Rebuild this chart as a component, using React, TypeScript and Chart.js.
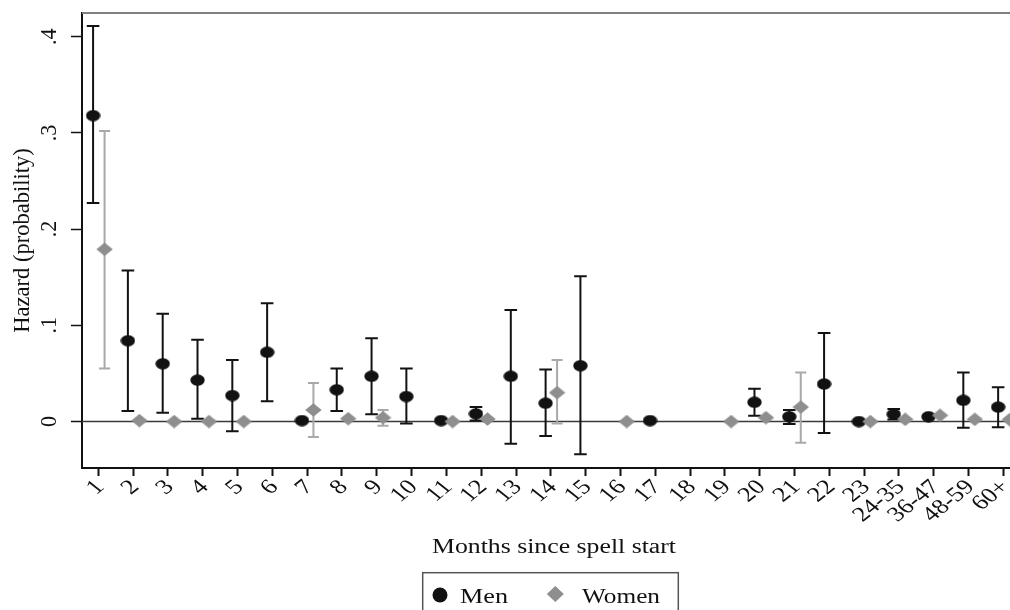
import { useEffect, useRef } from 'react';
import { Chart, registerables } from 'chart.js';

Chart.register(...registerables);

// Duration categories on the horizontal axis (months since spell start)
const tickLabels = [
  '1', '2', '3', '4', '5', '6', '7', '8', '9', '10', '11', '12', '13', '14', '15',
  '16', '17', '18', '19', '20', '21', '22', '23', '24-35', '36-47', '48-59', '60+',
];

// Estimated hazard for men, with 95% confidence bounds (null = not estimated)
const menHazard = [
  0.318, 0.084, 0.060, 0.043, 0.027, 0.072, 0.001, 0.033, 0.047, 0.026, 0.001, 0.008, 0.047, 0.019, 0.058,
  null, 0.001, null, null, 0.020, 0.005, 0.039, 0.000, 0.0075, 0.005, 0.022, 0.015,
];
const menLower = [
  0.227, 0.011, 0.009, 0.003, -0.010, 0.021, null, 0.011, 0.0075, -0.002, null, 0.001, -0.023, -0.015, -0.034,
  null, null, null, null, 0.006, -0.0026, -0.012, null, 0.002, null, -0.0064, -0.006,
];
const menUpper = [
  0.411, 0.157, 0.112, 0.085, 0.064, 0.123, null, 0.055, 0.0865, 0.055, null, 0.015, 0.116, 0.054, 0.151,
  null, null, null, null, 0.034, 0.012, 0.092, null, 0.013, null, 0.051, 0.0356,
];

// Estimated hazard for women, with 95% confidence bounds
const womenHazard = [
  0.179, 0.001, 0.000, 0.000, 0.000, null, 0.012, 0.003, 0.004, null, 0.000, 0.0026, null, 0.030, null,
  0.000, null, null, 0.000, 0.004, 0.015, null, 0.000, 0.0023, 0.0064, 0.0023, 0.002,
];
const womenLower = [
  0.055, null, null, null, null, null, -0.016, null, -0.0044, null, null, null, null, -0.002, null,
  null, null, null, null, null, -0.022, null, null, null, null, null, null,
];
const womenUpper = [
  0.302, null, null, null, null, null, 0.040, null, 0.012, null, null, null, null, 0.064, null,
  null, null, null, null, null, 0.051, null, null, null, null, null, null,
];

const yTickValues = [0, 0.1, 0.2, 0.3, 0.4];
const yTickLabels = ['0', '.1', '.2', '.3', '.4'];
const seriesNames = ['Men', 'Women'];
const xTitle = 'Months since spell start';
const yTitle = 'Hazard (probability)';

// Side-by-side placement of the two groups around each category
const MEN_SHIFT = -0.15;
const WOMEN_SHIFT = 0.18;

const SERIF = '"Liberation Serif", "Times New Roman", serif';
const INK = '#111111';
const MEN_COLOR = '#121212';
const WOMEN_COLOR = '#8e8e8e';
const WOMEN_CI_COLOR = '#a9a9a9';

function makeEllipse(w: number, h: number, color: string) {
  const c = document.createElement('canvas');
  c.width = w;
  c.height = h;
  const g = c.getContext('2d')!;
  g.fillStyle = color;
  g.beginPath();
  g.ellipse(w / 2, h / 2, w / 2 - 0.3, h / 2 - 0.3, 0, 0, Math.PI * 2);
  g.fill();
  return c;
}

function makeDiamond(w: number, h: number, color: string) {
  const c = document.createElement('canvas');
  c.width = w;
  c.height = h;
  const g = c.getContext('2d')!;
  g.fillStyle = color;
  g.beginPath();
  g.moveTo(0.3, h / 2);
  g.lineTo(w / 2, 0.3);
  g.lineTo(w - 0.3, h / 2);
  g.lineTo(w / 2, h - 0.3);
  g.closePath();
  g.fill();
  return c;
}

function drawText(
  ctx: CanvasRenderingContext2D,
  text: string,
  x: number,
  y: number,
  size: number,
  sx: number,
  angle: number,
  align: CanvasTextAlign,
  baseline: CanvasTextBaseline,
) {
  ctx.save();
  ctx.translate(x, y);
  ctx.scale(sx, 1);
  ctx.rotate(angle);
  ctx.font = `${size}px ${SERIF}`;
  ctx.textAlign = align;
  ctx.textBaseline = baseline;
  ctx.fillStyle = INK;
  ctx.fillText(text, 0, 0);
  ctx.restore();
}

function drawFitted(
  ctx: CanvasRenderingContext2D,
  text: string,
  left: number,
  baselineY: number,
  size: number,
  width: number,
) {
  ctx.save();
  ctx.font = `${size}px ${SERIF}`;
  const sx = width / ctx.measureText(text).width;
  ctx.translate(left, baselineY);
  ctx.scale(sx, 1);
  ctx.textAlign = 'left';
  ctx.textBaseline = 'alphabetic';
  ctx.fillStyle = INK;
  ctx.fillText(text, 0, 0);
  ctx.restore();
}

const decorPlugin = {
  id: 'hazardDecor',
  beforeDatasetsDraw(chart: any) {
    const { ctx, chartArea: a } = chart;
    const x = chart.scales.x;
    const y = chart.scales.y;
    ctx.save();

    // upper and right edges of the plot region
    ctx.strokeStyle = '#808080';
    ctx.lineWidth = 2;
    ctx.beginPath();
    ctx.moveTo(a.left, a.top);
    ctx.lineTo(a.right, a.top);
    ctx.lineTo(a.right, a.bottom);
    ctx.stroke();

    // reference line at zero
    const y0 = y.getPixelForValue(0);
    ctx.strokeStyle = '#3a3a3a';
    ctx.lineWidth = 1.5;
    ctx.beginPath();
    ctx.moveTo(a.left, y0);
    ctx.lineTo(a.right, y0);
    ctx.stroke();

    // confidence intervals
    const groups = [
      { lo: womenLower, hi: womenUpper, shift: WOMEN_SHIFT, color: WOMEN_CI_COLOR, cap: 5.5 },
      { lo: menLower, hi: menUpper, shift: MEN_SHIFT, color: MEN_COLOR, cap: 6.3 },
    ];
    for (const g of groups) {
      ctx.strokeStyle = g.color;
      ctx.lineWidth = 2;
      g.lo.forEach((lo, i) => {
        const hi = g.hi[i];
        if (lo === null || hi === null) return;
        const px = x.getPixelForValue(i + 1 + g.shift);
        const pLo = y.getPixelForValue(lo);
        const pHi = y.getPixelForValue(hi);
        ctx.beginPath();
        ctx.moveTo(px, pLo);
        ctx.lineTo(px, pHi);
        ctx.moveTo(px - g.cap, pLo);
        ctx.lineTo(px + g.cap, pLo);
        ctx.moveTo(px - g.cap, pHi);
        ctx.lineTo(px + g.cap, pHi);
        ctx.stroke();
      });
    }
    ctx.restore();
  },
  afterDraw(chart: any) {
    const { ctx, chartArea: a } = chart;
    const x = chart.scales.x;
    const y = chart.scales.y;

    // vertical axis labels and title
    yTickValues.forEach((v, i) => {
      drawText(ctx, yTickLabels[i], 50, y.getPixelForValue(v), 22, 1.05, -Math.PI / 2, 'center', 'middle');
    });
    drawText(ctx, yTitle, 23, (a.top + a.bottom) / 2, 22.5, 1, -Math.PI / 2, 'center', 'middle');

    // slanted category labels
    tickLabels.forEach((lab, i) => {
      const px = x.getPixelForValue(i + 1);
      drawText(ctx, lab, px + 2, 484, 21, 1.25, -Math.PI / 4, 'right', 'middle');
    });

    // horizontal axis title
    drawFitted(ctx, xTitle, 432, 553, 20, 244);

    // legend box
    ctx.save();
    ctx.strokeStyle = '#555555';
    ctx.lineWidth = 1.5;
    ctx.strokeRect(422.7, 572.7, 255.6, 60);
    ctx.fillStyle = MEN_COLOR;
    ctx.beginPath();
    ctx.ellipse(440, 595, 7.5, 7.5, 0, 0, Math.PI * 2);
    ctx.fill();
    ctx.fillStyle = WOMEN_COLOR;
    ctx.beginPath();
    ctx.moveTo(546.8, 594);
    ctx.lineTo(555.3, 586);
    ctx.lineTo(563.8, 594);
    ctx.lineTo(555.3, 602);
    ctx.closePath();
    ctx.fill();
    ctx.restore();
    drawFitted(ctx, seriesNames[0], 460, 602.5, 21.5, 48);
    drawFitted(ctx, seriesNames[1], 582, 602.5, 21.5, 78);
  },
};

export default function App() {
  const canvasRef = useRef<HTMLCanvasElement | null>(null);

  useEffect(() => {
    const canvas = canvasRef.current;
    if (!canvas) return;

    const menPoints = menHazard
      .map((v, i) => (v === null ? null : { x: i + 1 + MEN_SHIFT, y: v }))
      .filter((p) => p !== null);
    const womenPoints = womenHazard
      .map((v, i) => (v === null ? null : { x: i + 1 + WOMEN_SHIFT, y: v }))
      .filter((p) => p !== null);

    const chart = new Chart(canvas, {
      type: 'scatter',
      data: {
        datasets: [
          {
            label: seriesNames[0],
            data: menPoints as any,
            order: 1,
            pointStyle: makeEllipse(15, 12, MEN_COLOR) as any,
            pointRadius: 8,
            backgroundColor: MEN_COLOR,
            borderWidth: 0,
          },
          {
            label: seriesNames[1],
            data: womenPoints as any,
            order: 0,
            pointStyle: makeDiamond(17, 14, WOMEN_COLOR) as any,
            pointRadius: 9,
            backgroundColor: WOMEN_COLOR,
            borderWidth: 0,
          },
        ],
      },
      options: {
        responsive: false,
        maintainAspectRatio: false,
        animation: false,
        devicePixelRatio: 1,
        events: [],
        layout: { padding: { top: 13, right: 10, bottom: 0, left: 0 } },
        plugins: {
          legend: { display: false },
          tooltip: { enabled: false },
        },
        scales: {
          x: {
            type: 'linear',
            min: 0.5317,
            max: 27.909,
            afterBuildTicks: (s: any) => {
              s.ticks = tickLabels.map((_, i) => ({ value: i + 1 }));
            },
            afterFit: (s: any) => {
              s.height = 142;
            },
            ticks: { display: false },
            grid: {
              display: true,
              drawOnChartArea: false,
              drawTicks: true,
              tickLength: 8,
              tickWidth: 2,
              tickColor: INK,
            },
            border: { display: true, color: INK, width: 2 },
          },
          y: {
            type: 'linear',
            min: -0.0483,
            max: 0.4246,
            afterBuildTicks: (s: any) => {
              s.ticks = yTickValues.map((v) => ({ value: v }));
            },
            afterFit: (s: any) => {
              s.width = 82;
            },
            ticks: { display: false },
            grid: {
              display: true,
              drawOnChartArea: false,
              drawTicks: true,
              tickLength: 11,
              tickWidth: 1.5,
              tickColor: INK,
            },
            border: { display: true, color: INK, width: 2 },
          },
        },
      },
      plugins: [decorPlugin],
    });

    return () => chart.destroy();
  }, []);

  return (
    <div
      style={{
        position: 'absolute',
        left: 0,
        top: 0,
        width: 1010,
        height: 610,
        overflow: 'hidden',
        background: '#ffffff',
      }}
    >
      <canvas ref={canvasRef} width={1045} height={610} style={{ display: 'block' }} />
    </div>
  );
}
